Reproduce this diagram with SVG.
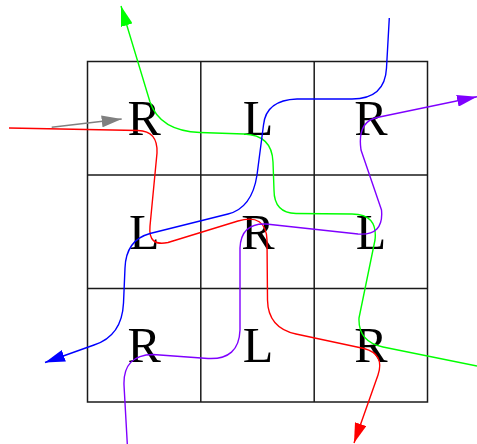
<svg xmlns="http://www.w3.org/2000/svg" width="477" height="444" viewBox="0 0 477 444">
<style>
.grid{fill:none;stroke:#1a1a1a;stroke-width:1.5}
.lbl{font-family:"Liberation Serif","DejaVu Serif",serif;font-size:50px;fill:#000;text-anchor:middle}
.c{fill:none;stroke-width:1.4;stroke-linejoin:round}
</style>
<defs>
<marker id="aR" viewBox="0 0 20 12" refX="20" refY="6" markerWidth="20" markerHeight="12" markerUnits="userSpaceOnUse" orient="auto"><path d="M0,0 L20,6 L0,12 z" fill="#ff0000"/></marker>
<marker id="aG" viewBox="0 0 20 12" refX="20" refY="6" markerWidth="20" markerHeight="12" markerUnits="userSpaceOnUse" orient="auto"><path d="M0,0 L20,6 L0,12 z" fill="#00ff00"/></marker>
<marker id="aB" viewBox="0 0 20 12" refX="20" refY="6" markerWidth="20" markerHeight="12" markerUnits="userSpaceOnUse" orient="auto"><path d="M0,0 L20,6 L0,12 z" fill="#0000ff"/></marker>
<marker id="aP" viewBox="0 0 20 12" refX="20" refY="6" markerWidth="20" markerHeight="12" markerUnits="userSpaceOnUse" orient="auto"><path d="M0,0 L20,6 L0,12 z" fill="#7f00ff"/></marker>
<marker id="aK" viewBox="0 0 20 12" refX="20" refY="6" markerWidth="20" markerHeight="12" markerUnits="userSpaceOnUse" orient="auto"><path d="M0,0 L20,6 L0,12 z" fill="#808080"/></marker>
</defs>
<g id="grid">
<rect class="grid" x="87.5" y="61.5" width="340" height="340.5"/>
<line class="grid" x1="200.8" y1="61.5" x2="200.8" y2="402"/>
<line class="grid" x1="314.2" y1="61.5" x2="314.2" y2="402"/>
<line class="grid" x1="87.5" y1="175" x2="427.5" y2="175"/>
<line class="grid" x1="87.5" y1="288.5" x2="427.5" y2="288.5"/>
</g>
<g id="cell-1-1"><text class="lbl" x="144.3" y="135">R</text></g>
<g id="cell-1-2"><text class="lbl" x="258" y="135">L</text></g>
<g id="cell-1-3"><text class="lbl" x="371" y="135">R</text></g>
<g id="cell-2-1"><text class="lbl" x="144.3" y="249">L</text></g>
<g id="cell-2-2"><text class="lbl" x="258" y="249">R</text></g>
<g id="cell-2-3"><text class="lbl" x="371" y="249">L</text></g>
<g id="cell-3-1"><text class="lbl" x="144.3" y="362">R</text></g>
<g id="cell-3-2"><text class="lbl" x="258" y="362">L</text></g>
<g id="cell-3-3"><text class="lbl" x="371" y="362">R</text></g>
<g id="connectors">
<path class="c" stroke="#ff0000" marker-end="url(#aR)" d="M9,128 L138,130.5 Q158,131 157,153 L150,226 Q148,247 168,242.5 L238,221 Q266,213 267,240 L267.5,300 Q268,328 296,334 L364,348.5 Q385,354 378,375 L354,443"/>
<path class="c" stroke="#00ff00" marker-end="url(#aG)" d="M477,366 L383,347 Q358,342 359,318 L375,240 Q378,214 352,214 L296,213.5 Q274,213 274,190 L273,162 Q272,135 244,134 L200,132.5 Q160,131 150,102 L121,6"/>
<path class="c" stroke="#0000ff" marker-end="url(#aB)" d="M389.3,18 L386.5,68 Q385,99 352,99 L297,99 Q266,100 263.5,125 L257,175 Q252,208 228,214 L150,233.5 Q126,240 125,268 L123.5,303 Q122,336 94,345 L45,362.5"/>
<path class="c" stroke="#7f00ff" marker-end="url(#aP)" d="M127.3,444 L124,385 Q123,355 153,354.5 L208,358.5 Q239,360 240,330 L240,248 Q241,223 266,224 L358,234 Q384,236 381.5,210 L361,150 Q357,122 377,117.5 L477,96.7"/>
<path class="c" stroke="#808080" marker-end="url(#aK)" d="M51.7,127.3 L121.7,119"/>
</g>
</svg>
